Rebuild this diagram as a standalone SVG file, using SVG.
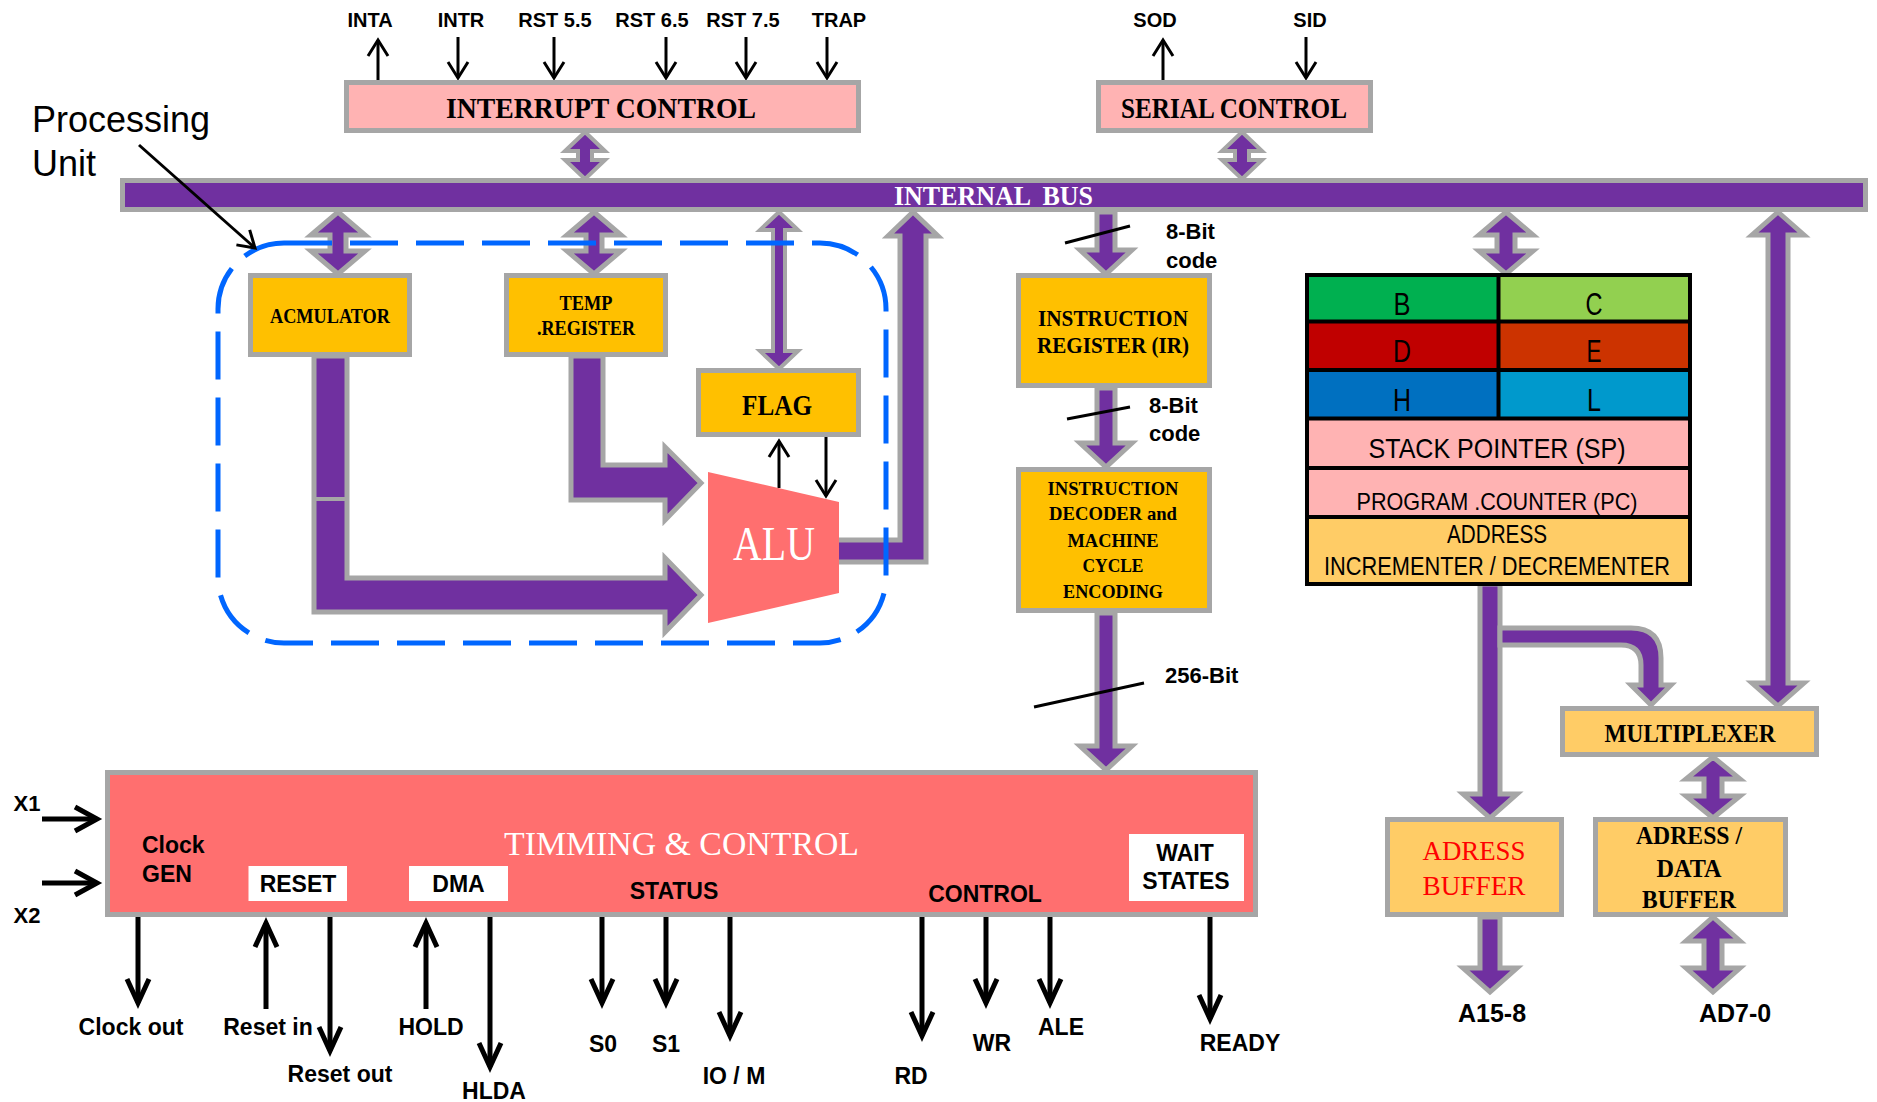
<svg xmlns="http://www.w3.org/2000/svg" width="1877" height="1102" viewBox="0 0 1877 1102">
<style>
.ba{fill:#7030A0;stroke:#A6A6A6;stroke-width:5;stroke-linejoin:miter}
.ba4{fill:#7030A0;stroke:#A6A6A6;stroke-width:4;stroke-linejoin:miter}
.box{stroke:#A6A6A6;stroke-width:5}
.gold{fill:#FFC000}
.lgold{fill:#FFCC66}
.pink{fill:#FFB3B3}
.salmon{fill:#FF6F6F}
.thin{stroke:#000;stroke-width:3;fill:none}
.thick{stroke:#000;stroke-width:5;fill:none}
.lb{font-family:"Liberation Sans",Arial,sans-serif;font-weight:bold;fill:#000}
.top{font-size:20px;text-anchor:middle}
.bot{font-size:23px;text-anchor:middle}
.sf{font-family:"Liberation Serif","Times New Roman",serif;font-weight:bold;fill:#000;text-anchor:middle}
.sfw{font-family:"Liberation Serif","Times New Roman",serif;fill:#fff}
.rg{font-family:"Liberation Sans",Arial,sans-serif;fill:#000;text-anchor:middle}
</style>
<defs>
<marker id="ah" markerUnits="userSpaceOnUse" markerWidth="40" markerHeight="40" refX="0" refY="0" orient="auto" overflow="visible"><path d="M-24,-11 L0,0 L-24,11" fill="none" stroke="#000" stroke-width="5"/></marker>
<marker id="ahs" markerUnits="userSpaceOnUse" markerWidth="30" markerHeight="30" refX="0" refY="0" orient="auto" overflow="visible"><path d="M-16,-10 L0,0 L-16,10" fill="none" stroke="#000" stroke-width="3"/></marker>
<marker id="ahx" markerUnits="userSpaceOnUse" markerWidth="40" markerHeight="40" refX="0" refY="0" orient="auto" overflow="visible"><path d="M-22,-12 L0,0 L-22,12" fill="none" stroke="#000" stroke-width="5"/></marker>
</defs>
<rect width="1877" height="1102" fill="#fff"/>

<g id="connectors">
  <path class="ba4" d="M585,132 L605,151 L592,151 L592,160 L605,160 L585,179 L565,160 L578,160 L578,151 L565,151 Z"/>
  <path class="ba4" d="M1242,132 L1262,151 L1249,151 L1249,160 L1262,160 L1242,179 L1222,160 L1235,160 L1235,151 L1222,151 Z"/>
  <path class="ba" d="M338,212 L365,235 L346,235 L346,251 L365,251 L338,274 L311,251 L330,251 L330,235 L311,235 Z"/>
  <path class="ba" d="M594,212 L621,235 L602,235 L602,251 L621,251 L594,274 L567,251 L586,251 L586,235 L567,235 Z"/>
  <path class="ba4" d="M779,212 L798,230 L785,230 L785,351 L798,351 L779,369 L760,351 L773,351 L773,230 L760,230 Z"/>
  <path class="ba" d="M314,356 L314,612 L665,612 L665,632 L701,595 L665,558 L665,578 L347,578 L347,356 Z"/>
  <line x1="312" y1="499" x2="349" y2="499" stroke="#A6A6A6" stroke-width="4"/>
  <path class="ba" d="M571,356 L571,500 L665,500 L665,520 L701,483 L665,447 L665,465 L603,465 L603,356 Z"/>
  <path class="ba" d="M830,540 L900,540 L900,236 L888,236 L913,212 L938,236 L926,236 L926,562 L830,562 Z"/>
  <path class="ba" d="M1097,212 L1115,212 L1115,250 L1132,250 L1106,274 L1080,250 L1097,250 Z"/>
  <path class="ba" d="M1097,388 L1115,388 L1115,443 L1132,443 L1106,467 L1080,443 L1097,443 Z"/>
  <path class="ba" d="M1097,613 L1115,613 L1115,746 L1132,746 L1106,770 L1080,746 L1097,746 Z"/>
  <path class="ba" d="M1506,212 L1533,235 L1515,235 L1515,251 L1533,251 L1506,274 L1479,251 L1497,251 L1497,235 L1479,235 Z"/>
  <path class="ba" d="M1778,212 L1804,235 L1788,235 L1788,683 L1804,683 L1778,706 L1752,683 L1768,683 L1768,235 L1752,235 Z"/>
  <path class="ba" d="M1480,584 L1500,584 L1500,794 L1517,794 L1490,818 L1463,794 L1480,794 Z"/>
  <path class="ba" d="M1500,628 L1631,628 Q1661,628 1661,658 L1661,685 L1671,685 L1651,705 L1631,685 L1641,685 L1641,665 Q1641,645 1621,645 L1500,645 Z"/>
  <path class="ba" d="M1713,757 L1740,779 L1722,779 L1722,796 L1740,796 L1713,818 L1686,796 L1704,796 L1704,779 L1686,779 Z"/>
  <path class="ba" d="M1480,917 L1500,917 L1500,968 L1517,968 L1490,992 L1463,968 L1480,968 Z"/>
  <path class="ba" d="M1713,917 L1740,941 L1722,941 L1722,968 L1740,968 L1713,992 L1686,968 L1704,968 L1704,941 L1686,941 Z"/>

  <line class="thin" x1="378" y1="81" x2="378" y2="40" marker-end="url(#ahs)"/>
  <line class="thin" x1="458" y1="37" x2="458" y2="78" marker-end="url(#ahs)"/>
  <line class="thin" x1="554" y1="37" x2="554" y2="78" marker-end="url(#ahs)"/>
  <line class="thin" x1="666" y1="37" x2="666" y2="78" marker-end="url(#ahs)"/>
  <line class="thin" x1="746" y1="37" x2="746" y2="78" marker-end="url(#ahs)"/>
  <line class="thin" x1="827" y1="37" x2="827" y2="78" marker-end="url(#ahs)"/>
  <line class="thin" x1="1163" y1="81" x2="1163" y2="40" marker-end="url(#ahs)"/>
  <line class="thin" x1="1306" y1="37" x2="1306" y2="78" marker-end="url(#ahs)"/>

  <line class="thin" x1="779" y1="488" x2="779" y2="441" marker-end="url(#ahs)"/>
  <line class="thin" x1="826" y1="437" x2="826" y2="496" marker-end="url(#ahs)"/>

  <line class="thin" x1="1065" y1="243" x2="1130" y2="226"/>
  <line class="thin" x1="1067" y1="419" x2="1130" y2="407"/>
  <line class="thin" x1="1034" y1="707" x2="1144" y2="683"/>

  <line class="thick" x1="42" y1="819" x2="97" y2="819" marker-end="url(#ahx)"/>
  <line class="thick" x1="42" y1="883" x2="97" y2="883" marker-end="url(#ahx)"/>

  <line class="thick" x1="138" y1="917" x2="138" y2="1003" marker-end="url(#ah)"/>
  <line class="thick" x1="266" y1="1009" x2="266" y2="923" marker-end="url(#ah)"/>
  <line class="thick" x1="330" y1="917" x2="330" y2="1051" marker-end="url(#ah)"/>
  <line class="thick" x1="426" y1="1009" x2="426" y2="923" marker-end="url(#ah)"/>
  <line class="thick" x1="490" y1="917" x2="490" y2="1067" marker-end="url(#ah)"/>
  <line class="thick" x1="602" y1="917" x2="602" y2="1003" marker-end="url(#ah)"/>
  <line class="thick" x1="666" y1="917" x2="666" y2="1003" marker-end="url(#ah)"/>
  <line class="thick" x1="730" y1="917" x2="730" y2="1036" marker-end="url(#ah)"/>
  <line class="thick" x1="922" y1="917" x2="922" y2="1036" marker-end="url(#ah)"/>
  <line class="thick" x1="986" y1="917" x2="986" y2="1003" marker-end="url(#ah)"/>
  <line class="thick" x1="1050" y1="917" x2="1050" y2="1003" marker-end="url(#ah)"/>
  <line class="thick" x1="1210" y1="917" x2="1210" y2="1019" marker-end="url(#ah)"/>
</g>

<g id="labels">
  <text class="lb top" x="370" y="27">INTA</text>
  <text class="lb top" x="461" y="27">INTR</text>
  <text class="lb top" x="555" y="27">RST 5.5</text>
  <text class="lb top" x="652" y="27">RST 6.5</text>
  <text class="lb top" x="743" y="27">RST 7.5</text>
  <text class="lb top" x="839" y="27">TRAP</text>
  <text class="lb top" x="1155" y="27">SOD</text>
  <text class="lb top" x="1310" y="27">SID</text>
  <text x="32" y="132" font-family="Liberation Sans, Arial, sans-serif" font-size="36">Processing</text>
  <text x="32" y="176" font-family="Liberation Sans, Arial, sans-serif" font-size="36">Unit</text>
  <text class="lb" x="1166" y="239" font-size="22">8-Bit</text>
  <text class="lb" x="1166" y="268" font-size="22">code</text>
  <text class="lb" x="1149" y="413" font-size="22">8-Bit</text>
  <text class="lb" x="1149" y="441" font-size="22">code</text>
  <text class="lb" x="1165" y="683" font-size="22">256-Bit</text>
  <text class="lb" x="27" y="811" font-size="22" text-anchor="middle">X1</text>
  <text class="lb" x="27" y="923" font-size="22" text-anchor="middle">X2</text>
  <text class="lb bot" x="131" y="1035">Clock out</text>
  <text class="lb bot" x="268" y="1035">Reset in</text>
  <text class="lb bot" x="340" y="1082">Reset out</text>
  <text class="lb bot" x="431" y="1035">HOLD</text>
  <text class="lb bot" x="494" y="1099">HLDA</text>
  <text class="lb bot" x="603" y="1052">S0</text>
  <text class="lb bot" x="666" y="1052">S1</text>
  <text class="lb bot" x="734" y="1084">IO / M</text>
  <text class="lb bot" x="911" y="1084">RD</text>
  <text class="lb bot" x="992" y="1051">WR</text>
  <text class="lb bot" x="1061" y="1035">ALE</text>
  <text class="lb bot" x="1240" y="1051">READY</text>
  <text class="lb" x="1492" y="1022" font-size="25" text-anchor="middle">A15-8</text>
  <text class="lb" x="1735" y="1022" font-size="25" text-anchor="middle">AD7-0</text>
</g>

<g id="interrupt-control">
  <rect class="box pink" x="346.5" y="82.5" width="512" height="48"/>
  <text class="sf" x="601" y="118" font-size="30" textLength="310" lengthAdjust="spacingAndGlyphs">INTERRUPT CONTROL</text>
</g>
<g id="serial-control">
  <rect class="box pink" x="1098.5" y="82.5" width="272" height="48"/>
  <text class="sf" x="1234" y="118" font-size="30" textLength="226" lengthAdjust="spacingAndGlyphs">SERIAL CONTROL</text>
</g>
<g id="internal-bus">
  <rect class="box" fill="#7030A0" x="122.5" y="180.5" width="1743" height="29"/>
  <text class="sfw" x="894" y="205" font-size="27" font-weight="bold" xml:space="preserve" textLength="199" lengthAdjust="spacingAndGlyphs">INTERNAL  BUS</text>
</g>

<g id="accumulator">
  <rect class="box gold" x="250.5" y="275.5" width="159" height="79"/>
  <text class="sf" x="330" y="323" font-size="21" textLength="120" lengthAdjust="spacingAndGlyphs">ACMULATOR</text>
</g>
<g id="temp-register">
  <rect class="box gold" x="506.5" y="275.5" width="159" height="79"/>
  <text class="sf" x="586" y="310" font-size="20" textLength="53" lengthAdjust="spacingAndGlyphs">TEMP</text>
  <text class="sf" x="586" y="335" font-size="20" textLength="98" lengthAdjust="spacingAndGlyphs">.REGISTER</text>
</g>
<g id="flag">
  <rect class="box gold" x="698.5" y="370.5" width="160" height="64"/>
  <text class="sf" x="777" y="415" font-size="30" textLength="70" lengthAdjust="spacingAndGlyphs">FLAG</text>
</g>
<g id="alu">
  <polygon points="708,472 839,502 839,593 708,623" fill="#FF6F6F"/>
  <text class="sfw" x="774" y="560" font-size="48" text-anchor="middle" textLength="82" lengthAdjust="spacingAndGlyphs">ALU</text>
</g>
<g id="processing-unit">
  <rect x="218" y="243" width="668" height="400" rx="66" ry="66" fill="none" stroke="#0066FF" stroke-width="5" stroke-dasharray="48 18"/>
</g>

<g id="instruction-register">
  <rect class="box gold" x="1018.5" y="275.5" width="191" height="110"/>
  <text class="sf" x="1113" y="326" font-size="24" textLength="150" lengthAdjust="spacingAndGlyphs">INSTRUCTION</text>
  <text class="sf" x="1113" y="353" font-size="24" textLength="152" lengthAdjust="spacingAndGlyphs">REGISTER (IR)</text>
</g>
<g id="instruction-decoder">
  <rect class="box gold" x="1018.5" y="469.5" width="191" height="141"/>
  <text class="sf" x="1113" y="495" font-size="19" textLength="131" lengthAdjust="spacingAndGlyphs">INSTRUCTION</text>
  <text class="sf" x="1113" y="520" font-size="19" textLength="128" lengthAdjust="spacingAndGlyphs">DECODER and</text>
  <text class="sf" x="1113" y="547" font-size="19" textLength="91" lengthAdjust="spacingAndGlyphs">MACHINE</text>
  <text class="sf" x="1113" y="572" font-size="19" textLength="61" lengthAdjust="spacingAndGlyphs">CYCLE</text>
  <text class="sf" x="1113" y="598" font-size="19" textLength="100" lengthAdjust="spacingAndGlyphs">ENCODING</text>
</g>

<g id="register-array">
  <rect x="1307" y="275" width="192" height="47" fill="#00B050"/>
  <rect x="1499" y="275" width="191" height="47" fill="#92D050"/>
  <rect x="1307" y="322" width="192" height="48" fill="#C00000"/>
  <rect x="1499" y="322" width="191" height="48" fill="#CC3300"/>
  <rect x="1307" y="370" width="192" height="48" fill="#0070C0"/>
  <rect x="1499" y="370" width="191" height="48" fill="#0099CC"/>
  <rect x="1307" y="418" width="383" height="50" fill="#FFB3B3"/>
  <rect x="1307" y="468" width="383" height="49" fill="#FFB3B3"/>
  <rect x="1307" y="517" width="383" height="67" fill="#FFCC66"/>
  <g stroke="#000" stroke-width="4" fill="none">
    <rect x="1307" y="275" width="383" height="309"/>
    <line x1="1307" y1="321.5" x2="1690" y2="321.5"/>
    <line x1="1307" y1="370" x2="1690" y2="370"/>
    <line x1="1307" y1="418.5" x2="1690" y2="418.5"/>
    <line x1="1307" y1="468" x2="1690" y2="468"/>
    <line x1="1307" y1="517" x2="1690" y2="517"/>
    <line x1="1498.5" y1="275" x2="1498.5" y2="418.5"/>
  </g>
  <text class="rg" x="1402" y="315" font-size="31" textLength="17" lengthAdjust="spacingAndGlyphs">B</text>
  <text class="rg" x="1594" y="315" font-size="31" textLength="17" lengthAdjust="spacingAndGlyphs">C</text>
  <text class="rg" x="1402" y="362" font-size="31" textLength="18" lengthAdjust="spacingAndGlyphs">D</text>
  <text class="rg" x="1594" y="362" font-size="31" textLength="15" lengthAdjust="spacingAndGlyphs">E</text>
  <text class="rg" x="1402" y="411" font-size="31" textLength="18" lengthAdjust="spacingAndGlyphs">H</text>
  <text class="rg" x="1594" y="411" font-size="31" textLength="14" lengthAdjust="spacingAndGlyphs">L</text>
  <text class="rg" x="1497" y="458" font-size="28" textLength="257" lengthAdjust="spacingAndGlyphs">STACK POINTER (SP)</text>
  <text class="rg" x="1497" y="510" font-size="24" textLength="281" lengthAdjust="spacingAndGlyphs">PROGRAM .COUNTER (PC)</text>
  <text class="rg" x="1497" y="543" font-size="25" textLength="100" lengthAdjust="spacingAndGlyphs">ADDRESS</text>
  <text class="rg" x="1497" y="575" font-size="25" textLength="346" lengthAdjust="spacingAndGlyphs">INCREMENTER / DECREMENTER</text>
</g>

<g id="multiplexer">
  <rect class="box lgold" x="1562.5" y="708.5" width="254" height="46"/>
  <text class="sf" x="1690" y="742" font-size="25" textLength="171" lengthAdjust="spacingAndGlyphs">MULTIPLEXER</text>
</g>
<g id="address-buffer">
  <rect class="box lgold" x="1387.5" y="819.5" width="174" height="95"/>
  <text class="sf" x="1474" y="860" font-size="28" style="fill:#FF0000;font-weight:normal" textLength="103" lengthAdjust="spacingAndGlyphs">ADRESS</text>
  <text class="sf" x="1474" y="895" font-size="28" style="fill:#FF0000;font-weight:normal" textLength="103" lengthAdjust="spacingAndGlyphs">BUFFER</text>
</g>
<g id="address-data-buffer">
  <rect class="box lgold" x="1595.5" y="819.5" width="190" height="95"/>
  <text class="sf" x="1689" y="844" font-size="26" textLength="106" lengthAdjust="spacingAndGlyphs">ADRESS /</text>
  <text class="sf" x="1689" y="877" font-size="26" textLength="65" lengthAdjust="spacingAndGlyphs">DATA</text>
  <text class="sf" x="1689" y="908" font-size="26" textLength="94" lengthAdjust="spacingAndGlyphs">BUFFER</text>
</g>

<g id="timing-control">
  <rect class="box salmon" x="107.5" y="772.5" width="1148" height="142"/>
  <text class="sfw" x="681.5" y="855" font-size="33" text-anchor="middle" textLength="355" lengthAdjust="spacingAndGlyphs">TIMMING &amp; CONTROL</text>
  <text class="lb" x="142" y="853" font-size="23">Clock</text>
  <text class="lb" x="142" y="882" font-size="23">GEN</text>
  <rect x="248.5" y="866" width="98.5" height="35" fill="#fff"/>
  <text class="lb" x="298" y="892" font-size="23" text-anchor="middle">RESET</text>
  <rect x="409" y="866" width="99" height="35" fill="#fff"/>
  <text class="lb" x="458.5" y="892" font-size="23" text-anchor="middle">DMA</text>
  <text class="lb" x="674" y="899" font-size="23" text-anchor="middle">STATUS</text>
  <text class="lb" x="985" y="902" font-size="23" text-anchor="middle">CONTROL</text>
  <rect x="1129" y="834" width="115" height="67" fill="#fff"/>
  <text class="lb" x="1185" y="861" font-size="23" text-anchor="middle">WAIT</text>
  <text class="lb" x="1186" y="889" font-size="23" text-anchor="middle">STATES</text>
</g>

<g id="pointer-connector">
  <line class="thin" x1="139" y1="145" x2="255" y2="248" marker-end="url(#ahs)"/>
</g>
</svg>
